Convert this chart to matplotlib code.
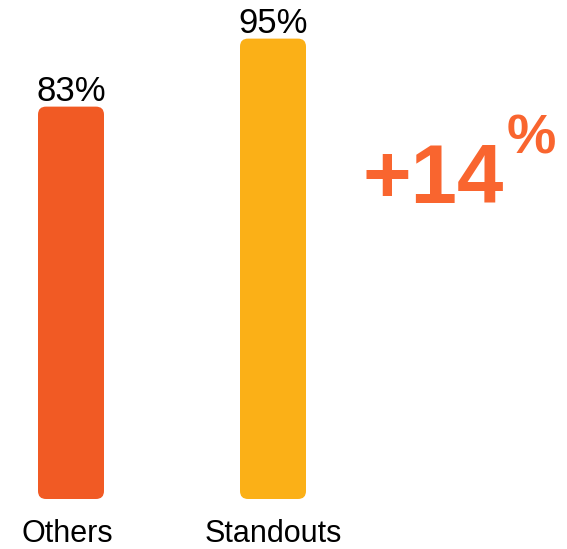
import matplotlib
matplotlib.use("Agg")
import matplotlib.pyplot as plt
from matplotlib.patches import FancyBboxPatch

categories = ["Others", "Standouts"]
values = [83, 95]
value_labels = ["83%", "95%"]
colors = ["#F15A24", "#FBB017"]
delta_main = "+14"
delta_sup = "%"

plt.rcParams['font.family'] = ['Liberation Sans', 'DejaVu Sans']

W, H = 567, 549
fig = plt.figure(figsize=(W / 100, H / 100), dpi=100)
ax = fig.add_axes([0, 50 / H, 1, 499 / H])
ax.set_axis_off()

px_per_x = 202.0
px_per_y = 5.667
x0 = -71 / px_per_x
ax.set_xlim(x0, x0 + W / px_per_x)
ybot = 13.76
ax.set_ylim(ybot, ybot + 499 / px_per_y)

bw = 66 / px_per_x
aspect = (1 / px_per_y) / (1 / px_per_x)
r = 8 / px_per_x
for i, (v, c, lab) in enumerate(zip(values, colors, value_labels)):
    p = FancyBboxPatch((i - bw / 2, ybot), bw, v - ybot,
                       boxstyle=f"round,pad=0,rounding_size={r}",
                       mutation_aspect=aspect, fc=c, ec='none')
    ax.add_patch(p)
    ax.annotate(lab, xy=(i, v), xytext=(0, 6 * 0.72), textcoords='offset points',
                ha='center', va='baseline', fontsize=25, color='#000000')
    ax.annotate(categories[i], xy=(i, 0), xycoords=('data', 'axes fraction'),
                xytext=(-3 if i == 0 else 0, -43 * 0.72), textcoords='offset points',
                ha='center', va='baseline', fontsize=22, color='#000000',
                annotation_clip=False)

fig.text(363 / W, 1 - 203 / H, delta_main, ha='left', va='baseline',
         fontsize=60, fontweight='bold', color='#F9652F')
fig.text(507 / W, 1 - 153 / H, delta_sup, ha='left', va='baseline',
         fontsize=40, fontweight='bold', color='#F9652F')

fig.savefig("out.png", dpi=100)
